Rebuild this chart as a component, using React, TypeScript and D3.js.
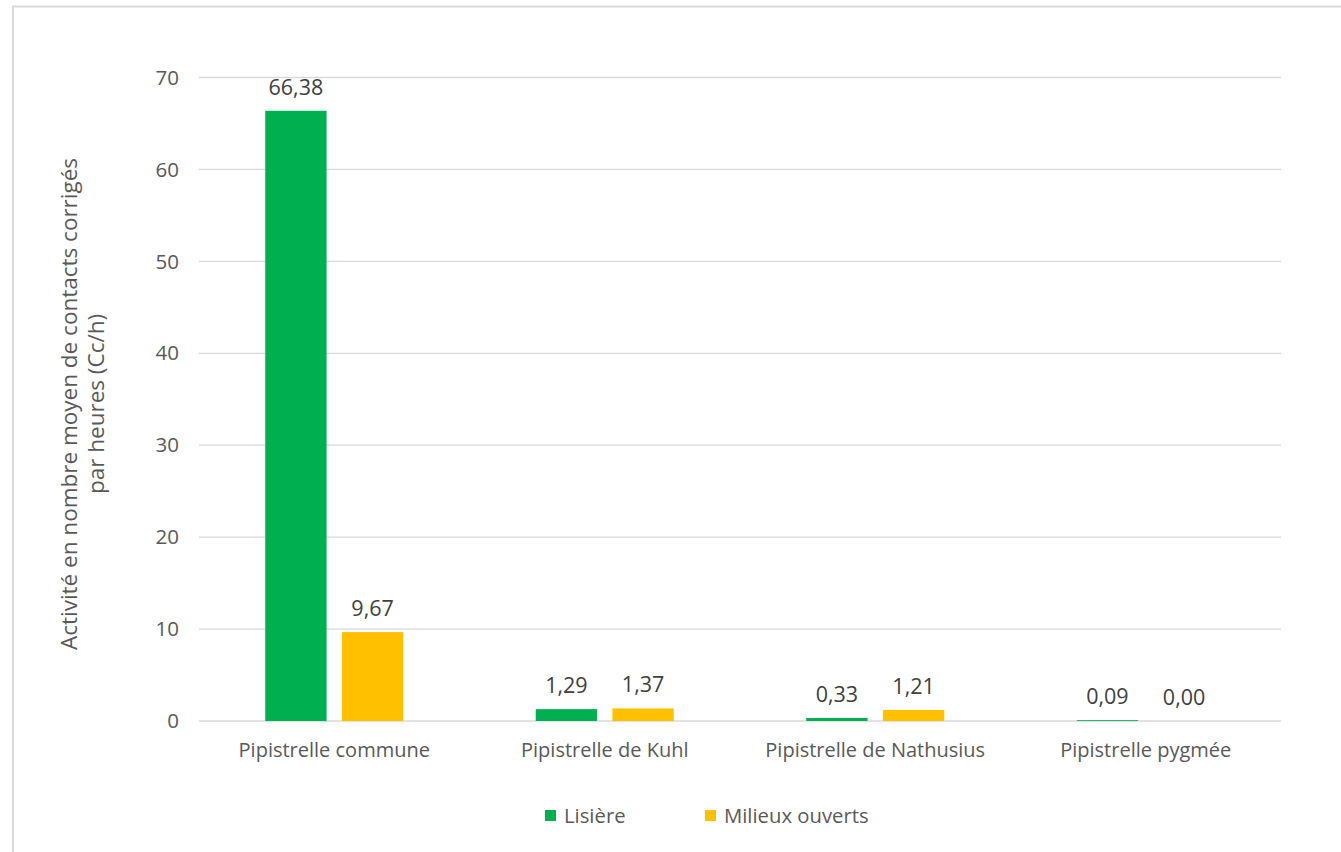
import React from "react";
import * as d3 from "d3";

const categories = ["Pipistrelle commune", "Pipistrelle de Kuhl", "Pipistrelle de Nathusius", "Pipistrelle pygmée"];
const seriesNames = ["Lisière", "Milieux ouverts"];
const lisiere = [66.38, 1.29, 0.33, 0.09];
const milieux = [9.67, 1.37, 1.21, 0.0];
const colors = ["#00b050", "#ffc000"];
const yTicks = [0, 10, 20, 30, 40, 50, 60, 70];
const yTitle = ["Activité en nombre moyen de contacts corrigés", "par heures (Cc/h)"];

const W = 1341, H = 852;
const FONT = "'Open Sans', 'Noto Sans', sans-serif";
const TXT = "#595959";

export default function App() {
  const left = 199, right = 1281, top = 77.5, bottom = 721;
  const x = d3.scaleBand<string>().domain(categories).range([left, right]);
  const y = d3.scaleLinear().domain([0, 70]).range([bottom, top]);
  const inner = d3.scaleBand<string>().domain(seriesNames).range([0, 138]).paddingInner(0.2);
  const series = [lisiere, milieux];
  const fmt = (v: number) => v.toFixed(2).replace(".", ",");

  return (
    <svg width={W} height={H} style={{ position: "absolute", left: 0, top: 0 }} fontFamily={FONT}>
      <rect x={0} y={0} width={W} height={H} fill="#fff" />
      <rect x={13} y={6.5} width={W + 10} height={H + 10} fill="#fff" stroke="#d9d9d9" strokeWidth={2} />
      {yTicks.map((t) => (
        <g key={t}>
          <line x1={left} x2={right} y1={y(t)} y2={y(t)} stroke="#d9d9d9" strokeWidth={1.3} />
          <text x={179} y={y(t)} dy="0.35em" textAnchor="end" fontSize={20.5} fill={TXT}>{t}</text>
        </g>
      ))}
      {categories.map((c, i) => {
        const cx = (x(c) as number) + x.bandwidth() / 2;
        return (
          <g key={c}>
            {series.map((s, k) => {
              const bx = cx - 69 + (inner(seriesNames[k]) as number);
              const bw = inner.bandwidth();
              const h = bottom - y(s[i]);
              return (
                <g key={k}>
                  {s[i] > 0 && <rect x={bx} y={y(s[i])} width={bw} height={h} fill={colors[k]} />}
                  <text x={bx + bw / 2} y={y(s[i]) - 16} textAnchor="middle" fontSize={21.5} fill="#404040">{fmt(s[i])}</text>
                </g>
              );
            })}
            <text x={cx} y={757} textAnchor="middle" fontSize={20} fill={TXT}>{c}</text>
          </g>
        );
      })}
      <g transform="translate(82,404) rotate(-90)">
        <text x={0} y={-13} dy="0.35em" textAnchor="middle" fontSize={22.5} fill={TXT}>{yTitle[0]}</text>
        <text x={0} y={14} dy="0.35em" textAnchor="middle" fontSize={22.5} fill={TXT}>{yTitle[1]}</text>
      </g>
      {seriesNames.map((n, k) => {
        const lx = [545, 705][k];
        return (
          <g key={n}>
            <rect x={lx} y={810} width={11} height={11} fill={colors[k]} />
            <text x={lx + 19} y={816} dy="0.35em" fontSize={20.3} fill={TXT}>{n}</text>
          </g>
        );
      })}
    </svg>
  );
}
